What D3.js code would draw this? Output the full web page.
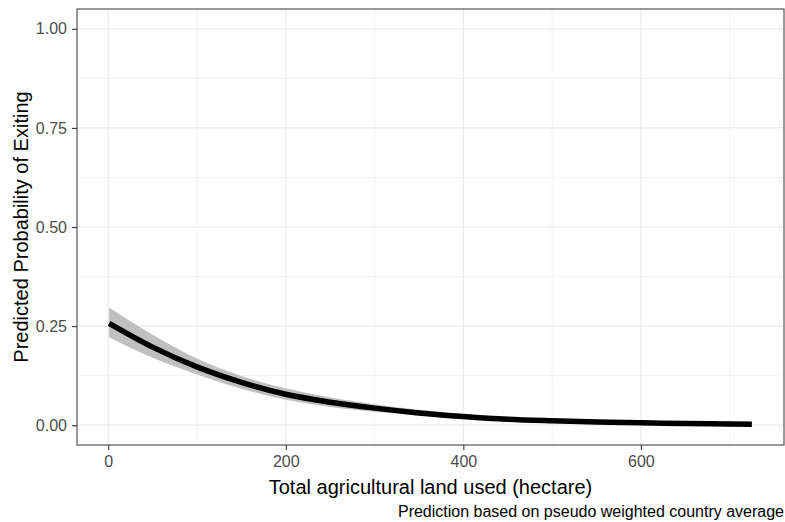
<!DOCTYPE html>
<html>
<head>
<meta charset="utf-8">
<script src="https://cdn.jsdelivr.net/npm/d3@7"></script>
<style>
  body { margin: 0; background: #fff; }
  svg text { font-family: "Liberation Sans", Arial, sans-serif; }
</style>
</head>
<body>
<div id="chart"></div>
<script>
// land used (hectare) and predicted probability
const landUsed = [1, 50, 100, 150, 200, 250, 300, 350, 400, 450, 500, 550, 600, 650, 700, 725];
const fitValues = [0.257, 0.197, 0.147, 0.108, 0.078, 0.058, 0.043, 0.031, 0.022, 0.015, 0.011, 0.008, 0.006, 0.004, 0.003, 0.0025];
const lowerValues = [0.222, 0.170, 0.128, 0.092, 0.064, 0.046, 0.034, 0.024, 0.016, 0.011, 0.008, 0.005, 0.004, 0.003, 0.002, 0.0015];
const upperValues = [0.297, 0.228, 0.168, 0.124, 0.093, 0.070, 0.053, 0.039, 0.028, 0.020, 0.014, 0.011, 0.008, 0.006, 0.005, 0.004];

const xTicks = [0, 200, 400, 600];
const xMinor = [100, 300, 500, 700];
const yTicks = [0, 0.25, 0.5, 0.75, 1];
const yMinor = [0.125, 0.375, 0.625, 0.875];

const width = 785, height = 522;
const panel = { left: 77, right: 784, top: 9, bottom: 445 };

let data = landUsed.map(function (d, i) {
    return { x: d, fit: fitValues[i], lo: lowerValues[i], hi: upperValues[i] };
});

let svg = d3.select("#chart").append("svg")
    .attr("width", width)
    .attr("height", height);

// ggplot-like 5% expansion
let xMin = d3.min(landUsed), xMax = d3.max(landUsed);
let xPad = (xMax - xMin) * 0.05;
let x = d3.scaleLinear()
    .domain([xMin - xPad, xMax + xPad])
    .range([panel.left, panel.right]);

let y = d3.scaleLinear()
    .domain([-0.05, 1.05])
    .range([panel.bottom, panel.top]);

// grid
let grid = svg.append("g");
grid.selectAll(".xminor").data(xMinor).enter().append("line")
    .attr("x1", d => x(d)).attr("x2", d => x(d))
    .attr("y1", panel.top).attr("y2", panel.bottom)
    .attr("stroke", "#ebebeb").attr("stroke-width", 0.6);
grid.selectAll(".yminor").data(yMinor).enter().append("line")
    .attr("y1", d => y(d)).attr("y2", d => y(d))
    .attr("x1", panel.left).attr("x2", panel.right)
    .attr("stroke", "#ebebeb").attr("stroke-width", 0.6);
grid.selectAll(".xmajor").data(xTicks).enter().append("line")
    .attr("x1", d => x(d)).attr("x2", d => x(d))
    .attr("y1", panel.top).attr("y2", panel.bottom)
    .attr("stroke", "#ebebeb").attr("stroke-width", 1.2);
grid.selectAll(".ymajor").data(yTicks).enter().append("line")
    .attr("y1", d => y(d)).attr("y2", d => y(d))
    .attr("x1", panel.left).attr("x2", panel.right)
    .attr("stroke", "#ebebeb").attr("stroke-width", 1.2);

// confidence ribbon
let ribbon = d3.area()
    .x(d => x(d.x))
    .y0(d => y(d.lo))
    .y1(d => y(d.hi))
    .curve(d3.curveMonotoneX);

svg.append("path")
    .datum(data)
    .attr("d", ribbon)
    .attr("fill", "#c0c0c0");

// fitted line
let line = d3.line()
    .x(d => x(d.x))
    .y(d => y(d.fit))
    .curve(d3.curveMonotoneX);

svg.append("path")
    .datum(data)
    .attr("d", line)
    .attr("fill", "none")
    .attr("stroke", "#000")
    .attr("stroke-width", 5.5);

// panel border
svg.append("rect")
    .attr("x", panel.left).attr("y", panel.top)
    .attr("width", panel.right - panel.left)
    .attr("height", panel.bottom - panel.top)
    .attr("fill", "none")
    .attr("stroke", "#555")
    .attr("stroke-width", 1.2);

// AXES
let xAxis = d3.axisBottom(x).tickValues(xTicks).tickSize(5).tickPadding(6).tickFormat(d3.format("d"));
let yAxis = d3.axisLeft(y).tickValues(yTicks).tickSize(5).tickPadding(5).tickFormat(d3.format(".2f"));

let gx = svg.append("g")
    .attr("transform", "translate(0," + panel.bottom + ")")
    .call(xAxis);
let gy = svg.append("g")
    .attr("transform", "translate(" + panel.left + ",0)")
    .call(yAxis);

[gx, gy].forEach(function (g) {
    g.select(".domain").remove();
    g.selectAll(".tick line").attr("stroke", "#333").attr("stroke-width", 1.1);
    g.selectAll(".tick text")
        .attr("fill", "#4d4d4d")
        .style("font-size", "16px")
        .style("font-family", "Liberation Sans, Arial, sans-serif");
});

// titles
svg.append("text")
    .attr("x", (panel.left + panel.right) / 2)
    .attr("y", 494)
    .attr("text-anchor", "middle")
    .style("font-size", "20px")
    .attr("fill", "#000")
    .text("Total agricultural land used (hectare)");

svg.append("text")
    .attr("transform", "translate(28," + ((panel.top + panel.bottom) / 2) + ") rotate(-90)")
    .attr("text-anchor", "middle")
    .style("font-size", "20px")
    .attr("fill", "#000")
    .text("Predicted Probability of Exiting");

svg.append("text")
    .attr("x", 784)
    .attr("y", 517)
    .attr("text-anchor", "end")
    .style("font-size", "16px")
    .attr("fill", "#000")
    .text("Prediction based on pseudo weighted country average");
</script>
</body>
</html>
